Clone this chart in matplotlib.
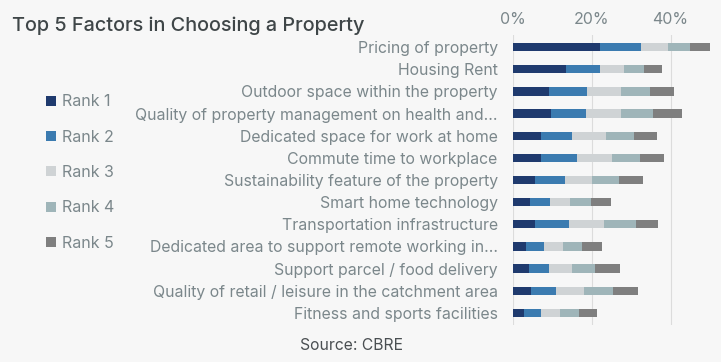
import matplotlib
matplotlib.use("Agg")
import matplotlib.pyplot as plt
import numpy as np

categories = [
    "Pricing of property",
    "Housing Rent",
    "Outdoor space within the property",
    "Quality of property management on health and...",
    "Dedicated space for work at home",
    "Commute time to workplace",
    "Sustainability feature of the property",
    "Smart home technology",
    "Transportation infrastructure",
    "Dedicated area to support remote working in...",
    "Support parcel / food delivery",
    "Quality of retail / leisure in the catchment area",
    "Fitness and sports facilities",
]
series_names = ["Rank 1", "Rank 2", "Rank 3", "Rank 4", "Rank 5"]
rank1 = [22.2, 13.4, 9.1, 9.6, 7.1, 7.0, 5.7, 4.3, 5.5, 3.2, 4.0, 4.5, 2.9]
rank2 = [10.3, 8.7, 9.7, 9.0, 8.0, 9.2, 7.5, 5.0, 8.6, 4.6, 5.2, 6.3, 4.1]
rank3 = [6.8, 6.0, 8.5, 8.9, 8.4, 9.0, 6.9, 5.2, 9.1, 4.8, 5.9, 7.1, 4.9]
rank4 = [5.7, 5.1, 7.4, 8.0, 7.3, 7.1, 6.7, 5.2, 7.9, 5.0, 5.7, 7.4, 4.8]
rank5 = [5.2, 4.6, 6.1, 7.4, 5.8, 5.9, 6.3, 5.2, 5.6, 5.0, 6.4, 6.5, 4.6]
x_ticks = [0, 20, 40]
x_tick_labels = ["0%", "20%", "40%"]

colors = ["#1f3a6e", "#3b7bb0", "#cfd3d5", "#9fb5b9", "#7f7f7f"]
bg = "#f7f7f7"
txt = "#7b878b"

plt.rcParams["font.family"] = ["Inter", "DejaVu Sans"]

W, H = 721, 362
fig = plt.figure(figsize=(W / 100, H / 100), dpi=100, facecolor=bg)
ax = fig.add_axes([513 / W, 1 - 325 / H, (710 - 513) / W, (325 - 35) / H])
ax.set_facecolor(bg)

y = np.arange(len(categories))
left = np.zeros(len(categories))
handles = []
for name, vals, c in zip(series_names, [rank1, rank2, rank3, rank4, rank5], colors):
    b = ax.barh(y, vals, left=left, height=0.37, color=c, label=name, zorder=3)
    handles.append(b)
    left += np.array(vals)

ax.set_xlim(0, 50)
ax.set_ylim(len(categories) - 0.45, -0.55)
ax.set_xticks(x_ticks)
ax.set_xticklabels(x_tick_labels)
ax.xaxis.tick_top()
ax.tick_params(axis="x", length=0, pad=6, labelsize=11.5, labelcolor=txt)
ax.set_yticks(y)
ax.set_yticklabels(categories)
ax.tick_params(axis="y", length=0, pad=11, labelsize=11.4, labelcolor=txt)
ax.grid(axis="x", color="#dcdcdc", linewidth=0.8, zorder=0)
for s in ax.spines.values():
    s.set_visible(False)

fig.text(12 / W, 1 - 26 / H, "Top 5 Factors in Choosing a Property", fontsize=14.3,
         fontweight="medium", color="#3f4648", va="center", ha="left")

leg = fig.legend(handles=handles, labels=series_names, loc="upper left",
                 bbox_to_anchor=(32 / W, 1 - 80 / H), frameon=False,
                 fontsize=11.5, labelcolor=txt, handlelength=0.6, handleheight=0.6,
                 handletextpad=0.4, labelspacing=1.27)

fig.text(351 / W, 1 - 345 / H, "Source: CBRE", fontsize=11.3, color="#4a4f52",
         ha="center", va="center")

fig.savefig("out.png", dpi=100, facecolor=bg)
